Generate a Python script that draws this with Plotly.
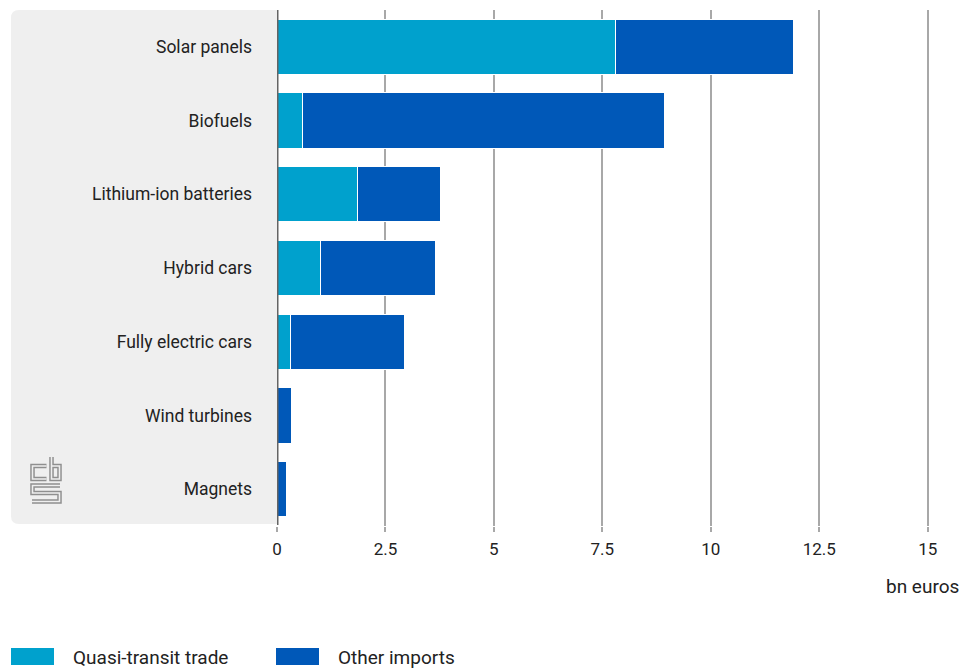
import plotly.graph_objects as go

# Imports of energy-transition goods, bn euros
categories = ["Solar panels", "Biofuels", "Lithium-ion batteries", "Hybrid cars",
              "Fully electric cars", "Wind turbines", "Magnets"]
quasi_transit = [7.81, 0.58, 1.85, 1.00, 0.31, 0.00, 0.00]
other_imports = [4.09, 8.35, 1.91, 2.65, 2.63, 0.33, 0.22]
series_names = ["Quasi-transit trade", "Other imports"]
series_colors = ["#00a1cd", "#0058b8"]
x_ticks = [0, 2.5, 5, 7.5, 10, 12.5, 15]
x_tick_labels = ["0", "2.5", "5", "7.5", "10", "12.5", "15"]
unit_label = "bn euros"

W, H = 968, 668
L, R, T, B = 277, 39, 10, 142
PW, PH = W - L - R, H - T - B
FONT = "Roboto"


def px(x):
    return (x - L) / PW


def py(y):
    return (H - B - y) / PH


fig = go.Figure()
for name, vals, col in zip(series_names, [quasi_transit, other_imports], series_colors):
    fig.add_trace(go.Bar(
        y=categories, x=vals, name=name, orientation="h",
        marker=dict(color=col, line=dict(color="white", width=1)),
        showlegend=False,
    ))

shapes = []

# grey label panel with rounded left corners
x0, x1, y0, y1, r = px(11), px(277), py(524), py(10), 8
rx, ry = r / PW, r / PH
shapes.append(dict(
    type="path", xref="paper", yref="paper", layer="below",
    path=(f"M {x1},{y1} L {x0+rx},{y1} Q {x0},{y1} {x0},{y1-ry} "
          f"L {x0},{y0+ry} Q {x0},{y0} {x0+rx},{y0} L {x1},{y0} Z"),
    fillcolor="#efefef", line=dict(width=0),
))

# value axis baseline at zero, drawn over the bars
shapes.append(dict(type="line", xref="x", yref="paper", x0=0, x1=0,
                   y0=py(525), y1=1, line=dict(color="#646464", width=3)))

# cbs logo, drawn as hollow strokes
logo_paths = [
    [(46.5, 466), (32.5, 466), (32.5, 479), (46.5, 479)],
    [(51.5, 457), (51.5, 479), (59.5, 479), (59.5, 466), (51.5, 466)],
    [(60, 485.5), (32.5, 485.5), (32.5, 493), (59.5, 493), (59.5, 501.5), (32, 501.5)],
]
for w, c in [(4.5, "#8f8f8f"), (1.6, "#efefef")]:
    for pts in logo_paths:
        d = "M " + " L ".join(f"{px(a)},{py(b)}" for a, b in pts)
        shapes.append(dict(type="path", xref="paper", yref="paper", path=d,
                           line=dict(color=c, width=w)))

# legend swatches
annotations = []
for (sx, tx), name, col in zip([(11, 71), (276, 336)], series_names, series_colors):
    shapes.append(dict(type="rect", xref="paper", yref="paper",
                       x0=px(sx), x1=px(sx + 43), y0=py(665), y1=py(648),
                       fillcolor=col, line=dict(width=0)))
    annotations.append(dict(xref="paper", yref="paper", x=px(tx), y=py(657),
                            text=name, showarrow=False, xanchor="left", yanchor="middle",
                            font=dict(family=FONT, size=19, color="#222222")))

annotations.append(dict(xref="paper", yref="paper", x=px(961), y=py(586),
                        text=unit_label, showarrow=False, xanchor="right", yanchor="middle",
                        font=dict(family=FONT, size=19, color="#222222")))

fig.update_layout(
    width=W, height=H, margin=dict(l=L, r=R, t=T, b=B),
    barmode="stack", bargap=0.25,
    plot_bgcolor="white", paper_bgcolor="white",
    font=dict(family=FONT, size=17.5, color="#222222"),
    shapes=shapes, annotations=annotations,
    xaxis=dict(range=[0, 15.03], tickvals=x_ticks, ticktext=x_tick_labels,
               showgrid=True, gridcolor="#a8a8a8", gridwidth=2, zeroline=False,
               ticks="outside", ticklen=5, tickcolor="#a8a8a8", tickwidth=2,
               ticklabelstandoff=3, showline=False, fixedrange=True,
               tickfont=dict(size=17)),
    yaxis=dict(categoryorder="array", categoryarray=categories, autorange="reversed",
               showgrid=False, zeroline=False, showline=False,
               ticks="", ticklabelstandoff=24, fixedrange=True),
)

fig.write_html("out.html")
